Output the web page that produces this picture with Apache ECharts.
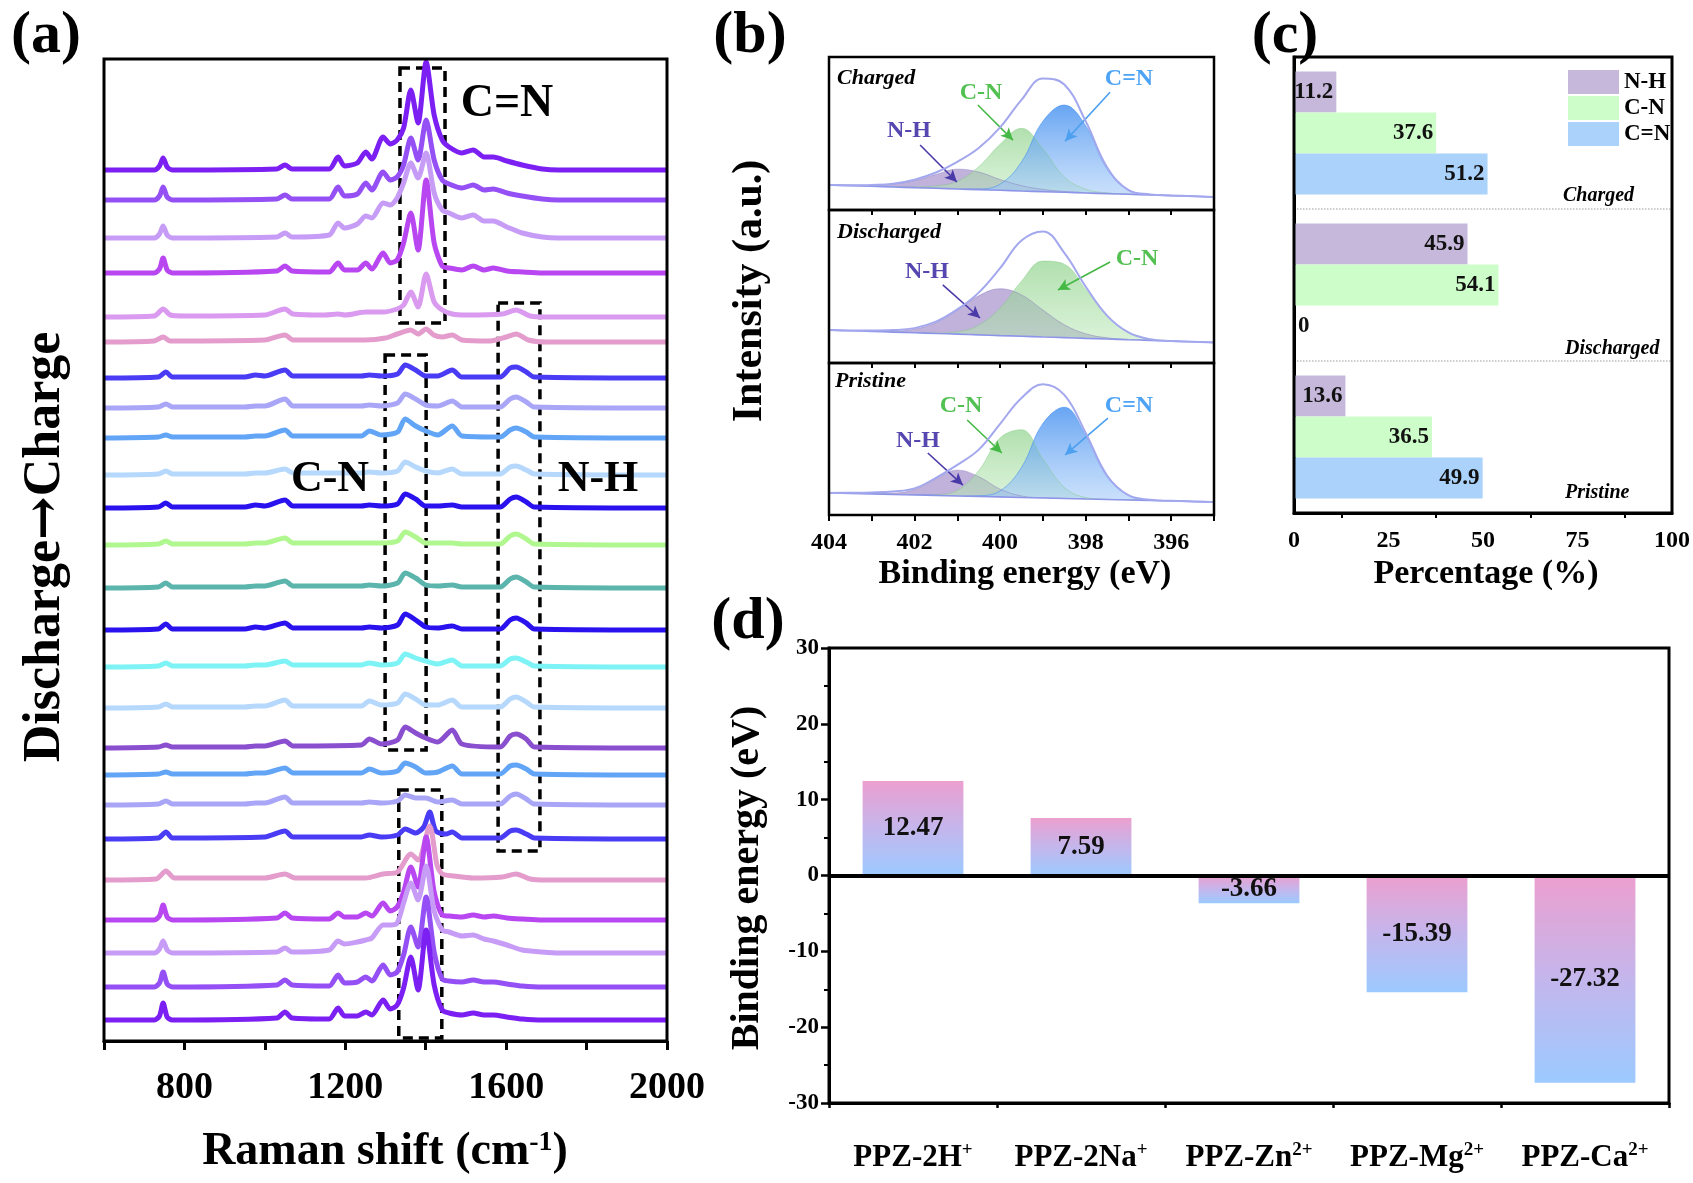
<!DOCTYPE html>
<html><head><meta charset="utf-8">
<script src="https://cdn.jsdelivr.net/npm/echarts@6/dist/echarts.min.js"></script>
<style>html,body{margin:0;padding:0;background:#fff}#c{width:1693px;height:1183px}</style>
</head><body><div id="c"></div>
<script>
// ===== Panel (a): Raman spectra (offset stack, top -> bottom) =====
const ramanStrongX = [600,725,738,747,757,770,1030,1050,1068,1160,1182,1198,1230,1251,1266,1294,1312,1329,1345,1363,1381,1401,1421,1441,1458,1490,1518,1545,1568,1602,1640,1690,1730,2000];
const ramanMidX = [600,735,754,770,950,977,1000,1050,1070,1240,1260,1290,1330,1349,1375,1400,1430,1466,1490,1585,1610,1625,1650,1670,2000];
const ramanX5 = [600,725,747,765,800,1000,1050,1070,1150,1182,1200,1251,1294,1329,1345,1363,1381,1401,1421,1441,1466,1500,1590,1625,1660,1700,2000];
const ramanX6 = [600,725,747,765,1000,1050,1070,1250,1300,1329,1363,1381,1401,1420,1441,1466,1490,1560,1600,1625,1655,1700,2000];
const ramanX20 = [600,735,754,770,1000,1050,1070,1240,1260,1290,1330,1349,1375,1395,1410,1425,1450,1466,1490,1585,1610,1625,1650,1670,2000];
const ramanX21 = [600,730,754,775,1000,1050,1075,1182,1250,1294,1330,1363,1381,1410,1428,1441,1470,1518,1590,1625,1660,1700,2000];

const ramanH1 = [0,0,4,12,3,0,1,5,1,1,13,4,7,18,11,33,26,30,42,80,47,108,55,30,23,17,20,13,13,9,5,1,0,0];
const ramanH2 = [0,0,4,13,3,0,1,5,1,1,13,4,6,17,10,28,20,23,35,62,40,80,40,20,16,12,15,10,11,7,4,1,0,0];
const ramanH3 = [0,0,4,12,3,0,1,5,1,3,15,10,14,22,20,35,33,40,55,75,60,85,45,28,25,20,23,17,17,11,5,1,0,0];
const ramanH4 = [0,0,4,15,3,0,2,7,2,1,10,3,3,10,4,20,10,13,30,60,23,93,30,7,5,3,7,3,5,2,1,0,0,0];
const ramanH5 = [0,1,8,2,1,2,8,3,2,3,2,5,5,8,12,25,10,43,15,7,3,2,3,7,1,0,0];
const ramanH6 = [0,1,5,1,2,7,2,2,4,8,12,8,13,7,5,7,2,1,5,8,2,0,0];
const ramanH7 = [0,1,6,1,1,3,2,8,2,2,3,2,4,13,8,2,2,8,1,1,10,11,6,1,0];
const ramanH8 = [0,1,4,1,1,2,2,9,2,2,3,2,5,14,9,3,2,7,1,1,9,11,6,1,0];
const ramanH9 = [0,1,3,1,1,2,2,8,2,2,7,3,6,19,12,7,3,12,2,1,8,10,6,1,0];
const ramanH10 = [0,1,4,1,1,2,2,6,2,2,3,2,4,13,8,4,2,6,1,1,8,9,5,1,0];
const ramanH11 = [0,1,5,1,1,3,2,8,2,2,3,2,4,14,9,2,2,3,1,1,9,11,6,1,0];
const ramanH12 = [0,1,4,1,1,2,2,7,2,2,2,2,4,13,8,2,2,2,1,1,9,11,6,1,0];
const ramanH13 = [0,1,5,1,1,2,2,7,2,2,3,2,5,15,10,3,2,3,1,1,9,11,6,1,0];
const ramanH14 = [0,1,6,1,1,3,2,7,2,2,3,2,5,16,10,3,2,4,1,1,10,12,7,1,0];
const ramanH15 = [0,1,4,1,1,2,2,6,2,2,4,2,4,13,9,6,3,7,1,1,8,9,5,1,0];
const ramanH16 = [0,1,4,1,1,2,2,8,2,2,7,3,5,14,9,3,3,8,1,1,9,11,6,1,0];
const ramanH17 = [0,1,3,1,1,2,2,7,2,3,9,4,8,21,15,10,6,18,4,1,12,14,9,1,0];
const ramanH18 = [0,1,3,1,1,2,2,7,2,2,6,2,4,12,8,2,3,9,1,1,9,10,6,1,0];
const ramanH19 = [0,1,4,1,1,2,2,8,2,2,3,2,4,10,7,7,3,5,1,1,9,11,6,1,0];
const ramanH20 = [0,1,7,1,2,8,2,2,4,2,4,10,6,12,27,8,5,7,1,1,8,9,5,1,0];
const ramanH21 = [0,1,9,2,2,6,2,2,2,6,8,26,20,54,15,6,4,2,3,6,1,0,0];
const ramanH22 = [0,0,4,15,3,0,2,7,2,1,7,3,3,7,4,17,9,13,28,53,33,83,28,5,4,3,5,3,4,2,1,0,0,0];
const ramanH23 = [0,0,4,12,3,0,1,5,1,3,12,9,11,13,15,28,28,30,50,70,53,87,42,23,21,17,18,14,12,8,3,1,0,0];
const ramanH24 = [0,0,4,15,3,0,2,7,2,1,12,4,5,10,6,22,12,15,32,60,40,90,35,8,6,5,7,5,5,3,1,0,0,0];
const ramanH25 = [0,0,4,17,3,0,2,8,2,1,12,4,4,8,5,20,11,15,32,63,30,90,35,10,7,5,7,5,5,3,1,0,0,0];

const ramanSpectraX = [ramanStrongX,ramanStrongX,ramanStrongX,ramanStrongX,ramanX5,ramanX6,
  ramanMidX,ramanMidX,ramanMidX,ramanMidX,ramanMidX,ramanMidX,ramanMidX,ramanMidX,ramanMidX,ramanMidX,ramanMidX,ramanMidX,ramanMidX,
  ramanX20,ramanX21,ramanStrongX,ramanStrongX,ramanStrongX,ramanStrongX];
const ramanSpectraH = [ramanH1,ramanH2,ramanH3,ramanH4,ramanH5,ramanH6,ramanH7,ramanH8,ramanH9,ramanH10,ramanH11,ramanH12,ramanH13,
  ramanH14,ramanH15,ramanH16,ramanH17,ramanH18,ramanH19,ramanH20,ramanH21,ramanH22,ramanH23,ramanH24,ramanH25];
const ramanOffsets = [871,841,803,768,724,699,663,633,603,566,533,496,453,411,374,333,293,266,236,202,161,121,88,54,21];
const ramanColors = ['#7b1ff2','#9550f5','#c79cf7','#b847f2','#d99af0','#e39ccc','#4a3cf5','#aaa6f7','#62a5f7','#b5d8fc',
  '#2a12ef','#b0f78f','#5bb5ad','#2a12ef','#7ef3f5','#b5d8fc','#8a4fcf','#62a5f7','#aaa6f7','#4a3cf5',
  '#e39ccc','#b847f2','#c79cf7','#9550f5','#7b1ff2'];
// dashed boxes: [xFrom, xTo, yTop, yBottom]
const ramanBoxes = [[1336,1448,973,718],[1299,1401,686,291],[1580,1684,738,190],[1333,1440,251,3]];
const ramanTicks = [800,1200,1600,2000];

// ===== Panel (b): N 1s XPS =====
const xpsBE = [404,403.5,403,402.5,402,401.5,401,400.5,400,399.5,399,398.5,398,397.5,397,396.5,396,395.5,395];
const chBg  = [16.3,15.9,15.5,15.0,14.6,14.2,13.7,13.3,12.9,12.4,12.0,11.6,11.1,10.7,10.3,9.8,9.4,9.0,8.5];
const chNH  = [0,0.3,0.8,2,4.5,9,13,11.5,7,3.5,1.5,0.5,0.2,0,0,0,0,0,0];
const chCN  = [0,0,0,0,0.5,1.5,5,15,30,41,28,10,2.5,0.5,0,0,0,0,0];
const chCdN = [0,0,0,0,0,0,0,0.5,4,19,46,57,44,16,3,0.4,0,0,0];
const chEnv = [16.3,16.2,16.4,17.2,19.8,24.5,31.5,40.5,54,72,86,82,58,28,13,10.2,9.5,9.0,8.5];
const dcBg  = [21.6,21.1,20.7,20.2,19.8,19.3,18.9,18.4,17.9,17.5,17.0,16.6,16.1,15.7,15.2,14.8,14.3,13.9,13.4];
const dcNH  = [0,0,0.2,0.6,2.3,7,15.6,25.5,30.6,27,17.6,8.4,3,0.8,0.2,0,0,0,0];
const dcCN  = [0,0,0,0,0,0.3,1.5,6.3,18,36,49.6,48,32,15,4.8,1,0.2,0,0];
const dcEnv = [21.6,21.2,21.2,21.5,22.8,27,35,46,62,80,86,72,50,31,20,15.5,14.3,13.9,13.4];
const prBg  = [14.5,14.2,13.9,13.5,13.2,12.9,12.5,12.2,11.9,11.5,11.2,10.9,10.5,10.2,9.9,9.5,9.2,8.9,8.6];
const prNH  = [0,0,0.1,0.8,3.5,10.8,17,13,5.1,1,0.1,0,0,0,0,0,0,0,0];
const prCN  = [0,0,0,0,0,0.5,3.7,17,38.8,44.6,25.6,7.3,1,0.1,0,0,0,0,0];
const prCdN = [0,0,0,0,0,0,0,0.5,4,19.8,49,60,42,15,3,0.3,0,0,0];
const prEnv = [14.5,14.6,14.8,15.5,17.5,24.5,33,43,60,77,86,79,54,26,13,10,9.3,8.9,8.6];
// arrows [fromBE, fromI, toBE, toI]
const chArrows = {cn:[400.52,68.6,399.70,45.7], nh:[401.87,42.5,401.01,18.3], cdn:[397.43,77,398.48,45]};
const dcArrows = {nh:[401.34,51,400.47,29.4], cn:[397.43,66,398.65,47.7]};
const prArrows = {cn:[400.77,62.5,399.96,40.8], nh:[401.69,40.8,400.87,19.7], cdn:[397.48,63.8,398.48,39.5]};

// ===== Panel (c): percentages =====
const pctCategories = ['Charged','Discharged','Pristine'];
const pctNH  = [11.2, 45.9, 13.6];
const pctCN  = [37.6, 54.1, 36.5];
const pctCdN = [51.2, 0, 49.9];

// ===== Panel (d): binding energies =====
const ppzNames = ['PPZ-2H','PPZ-2Na','PPZ-Zn','PPZ-Mg','PPZ-Ca'];
const ppzCharges = ['+','+','2+','2+','2+'];
const ppzEnergy = [12.47, 7.59, -3.66, -15.39, -27.32];

// ===================================================================
const FF = '"Liberation Serif","Times New Roman",serif';
const chart = echarts.init(document.getElementById('c'), null, {renderer:'canvas'});
const series = [];

// (a)
for (let i = 0; i < ramanSpectraH.length; i++) {
  const xs = ramanSpectraX[i], hs = ramanSpectraH[i], off = ramanOffsets[i];
  series.push({
    type:'line', xAxisIndex:0, yAxisIndex:0, silent:true, showSymbol:false, smooth:0.25,
    data: xs.map((x,j)=>[x, hs[j]+off]),
    lineStyle:{color:ramanColors[i], width:5}, itemStyle:{color:ramanColors[i]}, z:3
  });
}
series.push({
  type:'line', xAxisIndex:0, yAxisIndex:0, data:[], silent:true, z:6,
  markArea:{silent:true, itemStyle:{color:'rgba(0,0,0,0)', borderColor:'#000', borderWidth:3.5, borderType:[10,6]},
    data: ramanBoxes.map(b=>[{xAxis:b[0], yAxis:b[2]},{xAxis:b[1], yAxis:b[3]}])}
});

// (b)
const colNH = 'rgba(140,115,190,0.55)';
const colCN = () => new echarts.graphic.LinearGradient(0,0,0,1,[{offset:0,color:'rgba(130,205,125,0.62)'},{offset:1,color:'rgba(200,238,198,0.5)'}]);
const colCdN = () => new echarts.graphic.LinearGradient(0,0,0,1,[{offset:0,color:'rgba(70,145,240,0.82)'},{offset:1,color:'rgba(180,212,250,0.55)'}]);
const arrowColor = {cn:'#45b845', nh:'#4a3aa8', cdn:'#4da0f0'};
function xpsPanel(k, bg, comps, env, arrows) {
  const ax = 1 + k;
  comps.forEach(c => {
    series.push({type:'line', xAxisIndex:ax, yAxisIndex:ax, silent:true, showSymbol:false, smooth:0.4, z:2,
      data: xpsBE.map((x,j)=>[x, bg[j]+c.h[j]]),
      lineStyle:{width:0.8, color:c.line}, areaStyle:{color:c.fill, opacity:1}});
  });
  series.push({type:'line', xAxisIndex:ax, yAxisIndex:ax, silent:true, showSymbol:false, smooth:0.3, z:3,
    data: xpsBE.map((x,j)=>[x, bg[j]]), lineStyle:{width:1.6, color:'#8d95e8'}, areaStyle:{color:'#ffffff', opacity:1}});
  series.push({type:'line', xAxisIndex:ax, yAxisIndex:ax, silent:true, showSymbol:false, smooth:0.4, z:5,
    data: xpsBE.map((x,j)=>[x, env[j]]), lineStyle:{width:2, color:'#a3a8ee'},
    markLine:{silent:true, symbol:['none','arrow'], symbolSize:[9,12], label:{show:false}, animation:false,
      data: Object.keys(arrows).map(key=>{const a=arrows[key];
        return [{coord:[a[0],a[1]], lineStyle:{color:arrowColor[key], width:1.6, type:'solid'}, itemStyle:{color:arrowColor[key]}},{coord:[a[2],a[3]]}];})}
  });
}
xpsPanel(0, chBg, [{h:chNH, fill:colNH, line:'rgba(140,120,190,0.6)'},{h:chCN, fill:colCN(), line:'rgba(120,200,120,0.5)'},{h:chCdN, fill:colCdN(), line:'rgba(60,140,240,0.7)'}], chEnv, chArrows);
xpsPanel(1, dcBg, [{h:dcNH, fill:colNH, line:'rgba(140,120,190,0.6)'},{h:dcCN, fill:colCN(), line:'rgba(120,200,120,0.5)'}], dcEnv, dcArrows);
xpsPanel(2, prBg, [{h:prNH, fill:colNH, line:'rgba(140,120,190,0.6)'},{h:prCN, fill:colCN(), line:'rgba(120,200,120,0.5)'},{h:prCdN, fill:colCdN(), line:'rgba(60,140,240,0.7)'}], prEnv, prArrows);

// (c)
const pctLabel = {show:true, position:'insideRight', distance:3, formatter:'{c}', fontFamily:FF, fontWeight:'bold', fontSize:23, color:'#111'};
function pctData(arr){ return arr.map(v => v === 0 ? {value:v, label:{position:'right', distance:4}} : v); }
[['N-H',pctNH,'#c6b8db'],['C-N',pctCN,'#cdfdc8'],['C=N',pctCdN,'#aad2fa']].forEach(s=>{
  series.push({type:'bar', name:s[0], xAxisIndex:6, yAxisIndex:4, data:pctData(s[1]), barGap:'0%', barCategoryGap:'19%',
    itemStyle:{color:s[2]}, label:pctLabel, silent:true});
});

// (d)
series.push({type:'bar', xAxisIndex:7, yAxisIndex:5, data:ppzEnergy, barWidth:'60%', silent:true, z:2,
  itemStyle:{color:new echarts.graphic.LinearGradient(0,0,0,1,[{offset:0,color:'#ec9fcf'},{offset:0.5,color:'#c4b6ec'},{offset:1,color:'#9ccaff'}])},
  label:{show:true, position:'inside', fontFamily:FF, fontWeight:'bold', fontSize:27, color:'#111'},
  markLine:{silent:true, symbol:'none', label:{show:false}, lineStyle:{color:'#000', width:4, type:'solid'}, data:[{yAxis:0}], animation:false}
});

const axLine = w => ({show:true, onZero:false, lineStyle:{color:'#000', width:w}});
const hidden = {show:false};
const tickFont = s => ({fontFamily:FF, fontWeight:'bold', fontSize:s, color:'#000'});

const xpsX = (grid, showLabels) => ({type:'value', gridIndex:grid, min:395, max:404, interval:1, inverse:true,
  axisLine:{show:false}, splitLine:hidden,
  axisTick:{show:showLabels, length:6, lineStyle:{width:2, color:'#000'}},
  axisLabel:showLabels ? Object.assign({show:true, margin:16, formatter:v => (v % 2 === 0 ? String(v) : '')}, tickFont(24)) : hidden});
const xpsTop = grid => ({type:'value', gridIndex:grid, position:'top', min:395, max:404, interval:1, inverse:true,
  axisLine:{show:false}, splitLine:hidden, axisLabel:hidden,
  axisTick:{show:true, inside:true, length:5, lineStyle:{width:2, color:'#000'}}});

const option = {
  animation:false, backgroundColor:'#fff',
  grid:[
    {left:104, top:59, width:563, height:982, show:true, borderColor:'#000', borderWidth:3, z:10, containLabel:false, outerBoundsMode:'none'},
    {left:829, top:57, width:385, height:153, show:true, borderColor:'#000', borderWidth:2.5, z:10, containLabel:false, outerBoundsMode:'none'},
    {left:829, top:210, width:385, height:153, show:true, borderColor:'#000', borderWidth:2.5, z:10, containLabel:false, outerBoundsMode:'none'},
    {left:829, top:363, width:385, height:152, show:true, borderColor:'#000', borderWidth:2.5, z:10, containLabel:false, outerBoundsMode:'none'},
    {left:1294, top:57, width:378, height:456, show:true, borderColor:'#000', borderWidth:3, z:10, containLabel:false, outerBoundsMode:'none'},
    {left:829, top:648, width:840, height:455, show:true, borderColor:'#000', borderWidth:3, z:10, containLabel:false, outerBoundsMode:'none'}
  ],
  legend:{data:['N-H','C-N','C=N'], orient:'vertical', left:1563, top:65, itemWidth:51, itemHeight:24, itemGap:2, icon:'rect',
    selectedMode:false, textStyle:{fontFamily:FF, fontWeight:'bold', fontSize:23, color:'#000'}},
  xAxis:[
    {type:'value', gridIndex:0, min:600, max:2000, interval:200, axisLine:axLine(3), splitLine:hidden,
      axisTick:{length:9, lineStyle:{width:3, color:'#000'}},
      axisLabel:Object.assign({margin:28, formatter:v => (ramanTicks.indexOf(v) >= 0 ? String(v) : '')}, tickFont(38))},
    xpsX(1,false), xpsX(2,false), xpsX(3,true), xpsTop(2), xpsTop(3),
    {type:'value', gridIndex:4, min:0, max:100, interval:25, axisLine:axLine(3), splitLine:hidden,
      axisTick:{length:8, lineStyle:{width:2.5, color:'#000'}},
      minorTick:{show:true, splitNumber:2, length:5, lineStyle:{width:2, color:'#000'}},
      axisLabel:Object.assign({margin:16}, tickFont(24))},
    {type:'category', gridIndex:5, data:ppzNames, axisLine:axLine(3), splitLine:hidden,
      axisTick:{alignWithLabel:true, length:10, lineStyle:{width:2.5, color:'#000'}},
      axisLabel:{margin:38, formatter:(v,i)=>'{n|' + v + '}{s|' + ppzCharges[i] + '}',
        rich:{n:{fontFamily:FF, fontWeight:'bold', fontSize:31, lineHeight:34, color:'#000'},
              s:{fontFamily:FF, fontWeight:'bold', fontSize:19, lineHeight:20, verticalAlign:'top', color:'#000'}}}},
    {type:'value', gridIndex:5, min:0, max:5, interval:1, position:'bottom', axisLine:{show:false, onZero:false},
      splitLine:hidden, axisLabel:hidden, axisTick:{show:true, length:5, lineStyle:{width:2.5, color:'#000'}}}
  ],
  yAxis:[
    {type:'value', gridIndex:0, min:0, max:982, show:false},
    {type:'value', gridIndex:1, min:0, max:100, show:false},
    {type:'value', gridIndex:2, min:0, max:100, show:false},
    {type:'value', gridIndex:3, min:0, max:100, show:false},
    {type:'category', gridIndex:4, data:pctCategories, inverse:true, axisLine:axLine(3), axisTick:hidden, axisLabel:hidden,
      splitLine:{show:true, lineStyle:{type:'dotted', color:'#bdbdbd', width:1.5}}},
    {type:'value', gridIndex:5, min:-30, max:30, interval:10, axisLine:axLine(3), splitLine:hidden,
      axisTick:{length:8, lineStyle:{width:2.5, color:'#000'}},
      minorTick:{show:true, splitNumber:2, length:5, lineStyle:{width:2, color:'#000'}},
      axisLabel:Object.assign({margin:10}, tickFont(23))}
  ],
  series: series,
  graphic: { elements: (function(){
    const els = [];
    function txt(s, x, y, font, opt) {
      opt = opt || {};
      els.push({type:'text', x:x, y:y, rotation:opt.rot || 0, silent:true, z:100,
        style:Object.assign({text:s, font:font, fill:opt.fill || '#000', align:opt.align || 'center', verticalAlign:'middle',
          textAlign:opt.align || 'center', textVerticalAlign:'middle'}, opt.rich ? {rich:opt.rich} : {})});
    }
    const B = n => 'bold ' + n + 'px ' + FF;
    const BI = n => 'italic bold ' + n + 'px ' + FF;
    // panel letters
    txt('(a)', 46, 36, B(60)); txt('(b)', 750, 36, B(60)); txt('(c)', 1285, 36, B(60)); txt('(d)', 748, 622, B(60));
    // (a)
    txt('C=N', 507, 104, B(46)); txt('C-N', 330, 480, B(44)); txt('N-H', 598, 480, B(44));
    txt('Discharge{a|\u2192}Charge', 46, 547, B(52), {rot:Math.PI/2,
      rich:{a:{font:'bold 52px "DejaVu Serif","DejaVu Sans",serif', fill:'#000'}}});
    txt('Raman shift (cm{s|-1})', 385, 1152, B(46), {rich:{s:{font:B(28), lineHeight:26, verticalAlign:'top'}}});
    // (b)
    txt('Intensity (a.u.)', 750, 291, B(42), {rot:Math.PI/2});
    txt('Binding energy (eV)', 1025, 574, B(34));
    txt('Charged', 837, 78, BI(22), {align:'left'});
    txt('Discharged', 837, 232, BI(22), {align:'left'});
    txt('Pristine', 835, 381, BI(22), {align:'left'});
    const G = '#52c152', P = '#5546b0', L = '#4da3f5';
    txt('C-N', 981, 93, B(24), {fill:G}); txt('N-H', 909, 131, B(24), {fill:P}); txt('C=N', 1129, 79, B(24), {fill:L});
    txt('N-H', 927, 272, B(24), {fill:P}); txt('C-N', 1137, 259, B(24), {fill:G});
    txt('C-N', 961, 406, B(24), {fill:G}); txt('N-H', 918, 441, B(24), {fill:P}); txt('C=N', 1129, 406, B(24), {fill:L});
    // (c)
    txt('Percentage (%)', 1486, 574, B(34));
    txt(pctCategories[0], 1563, 196, BI(20), {align:'left'});
    txt(pctCategories[1], 1565, 349, BI(20), {align:'left'});
    txt(pctCategories[2], 1565, 493, BI(20), {align:'left'});
    // (d)
    txt('Binding energy (eV)', 748, 878, B(40), {rot:Math.PI/2});
    return els;
  })() }
};
chart.setOption(option);
</script>
</body></html>
